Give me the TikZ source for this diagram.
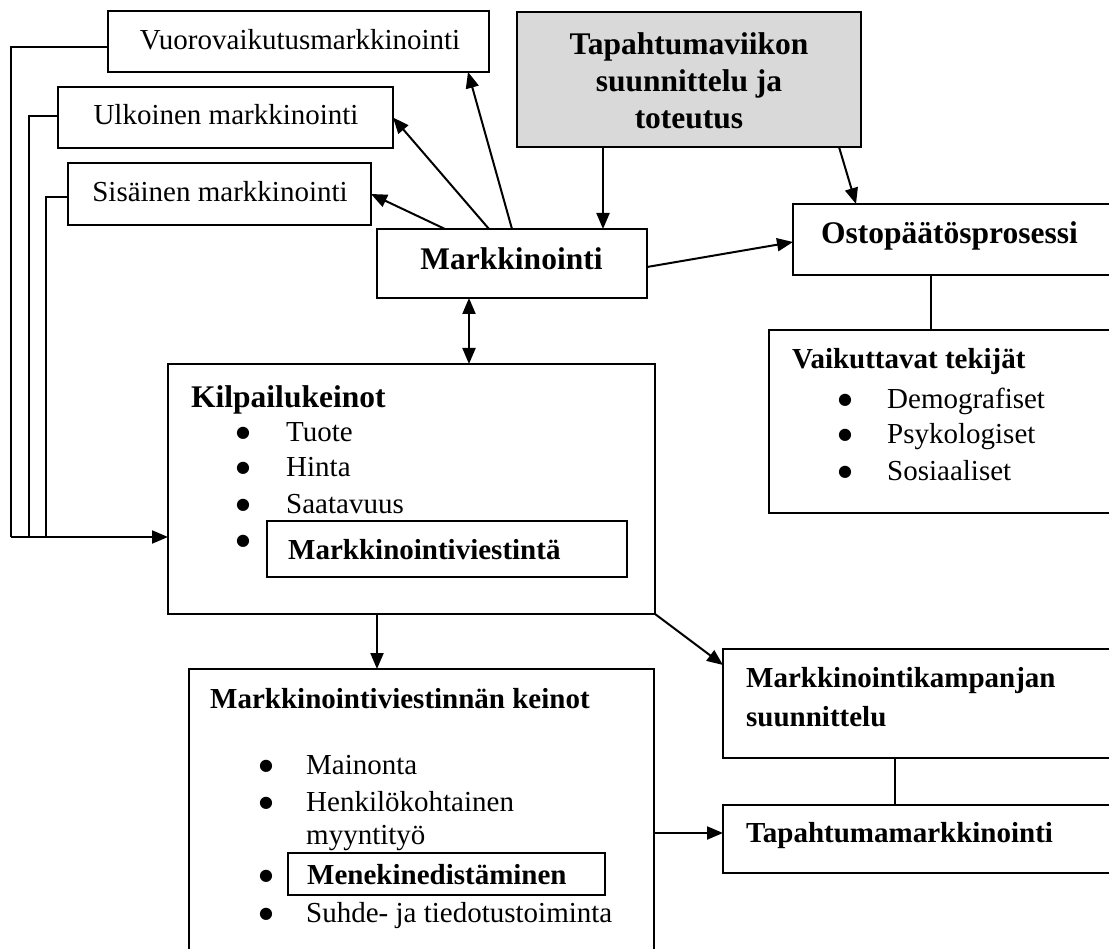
\documentclass[tikz,border=0pt]{standalone}
\usepackage{fontspec}
\setmainfont{Liberation Serif}
\newfontfamily\bulfont{DejaVu Sans}
\usetikzlibrary{arrows.meta,calc}
\begin{document}
\begin{tikzpicture}[x=1pt,y=-1pt,
  box/.style={draw,line width=1.8pt,inner sep=0pt,outer sep=0pt},
  greybox/.style={box,fill={rgb,255:red,217;green,217;blue,217}},
  arr/.style={line width=2pt,-{Triangle[length=16pt,width=13pt]}},
  dblarr/.style={line width=2pt,{Triangle[length=16pt,width=13pt]}-{Triangle[length=16pt,width=13pt]}},
  lnk/.style={line width=1.8pt},
  thinlnk/.style={line width=1.3pt},
  norm/.style={inner sep=0pt,font=\fontsize{29}{36}\selectfont},
  bnorm/.style={inner sep=0pt,font=\fontsize{29}{36}\selectfont\bfseries},
  bbig/.style={inner sep=0pt,font=\fontsize{31.5}{37}\selectfont\bfseries},
  bul/.style={inner sep=0pt,anchor=base,font=\bulfont\fontsize{16}{16}\selectfont}]
\useasboundingbox (0,0) rectangle (1109,949);

% boxes
\node[box,minimum width=381pt,minimum height=61pt] (vuoro) at (298.5,41.5) {};
\node[box,minimum width=335pt,minimum height=61pt] (ulko) at (225.5,117.5) {};
\node[box,minimum width=303pt,minimum height=62pt] (sisa) at (219.5,194) {};
\node[box,minimum width=270pt,minimum height=69pt] (mark) at (512,263.5) {};
\node[greybox,minimum width=344pt,minimum height=135pt] (tapv) at (689,79.5) {};
\node[box,minimum width=319pt,minimum height=71pt] (osto) at (952.5,239.5) {};
\node[box,minimum width=343pt,minimum height=183pt] (vaik) at (940.5,421.5) {};
\node[box,minimum width=487pt,minimum height=250pt] (kilp) at (411.5,489) {};
\node[box,minimum width=360pt,minimum height=56pt] (mv) at (447,549) {};
\node[box,minimum width=465pt,minimum height=301pt] (keinot) at (421.5,819.5) {};
\node[box,minimum width=317pt,minimum height=42pt] (mened) at (446.5,874) {};
\node[box,minimum width=389pt,minimum height=109pt] (kamp) at (917.5,703.5) {};
\node[box,minimum width=389pt,minimum height=68pt] (tapm) at (917.5,839) {};

% texts
\node[norm,anchor=base] (tvuoro) at (300,50) {Vuorovaikutusmarkkinointi};
\node[norm,anchor=base] (tulko) at (226,125) {Ulkoinen markkinointi};
\node[norm,anchor=base] (tsisa) at (220,202) {Sisäinen markkinointi};
\node[bbig,anchor=base] (tmark) at (511.5,270) {Markkinointi};
\node[bbig,align=center,anchor=center] (ttapv) at (689,80.5) {Tapahtumaviikon\\suunnittelu ja\\toteutus};
\node[bbig,anchor=base west] (tosto) at (821,244) {Ostopäätösprosessi};

\node[bnorm,anchor=base west] (tvaik) at (792,369) {Vaikuttavat tekijät};
\node[bul] (bv1) at (845,405) {●};
\node[bul] (bv2) at (845,440) {●};
\node[bul] (bv3) at (845,477) {●};
\node[norm,anchor=base west] (v1) at (887,409) {Demografiset};
\node[norm,anchor=base west] (v2) at (887,444) {Psykologiset};
\node[norm,anchor=base west] (v3) at (887,481) {Sosiaaliset};

\node[bbig,anchor=base west] (tkilp) at (191,408) {Kilpailukeinot};
\node[bul] (bk1) at (243,438) {●};
\node[bul] (bk2) at (243,473) {●};
\node[bul] (bk3) at (243,510) {●};
\node[bul] (bk4) at (243,545) {●};
\node[norm,anchor=base west] (k1) at (286,442) {Tuote};
\node[norm,anchor=base west] (k2) at (286,477) {Hinta};
\node[norm,anchor=base west] (k3) at (286,514) {Saatavuus};
\node[bnorm,anchor=base west] (tmv) at (288,559) {Markkinointiviestintä};

\node[bnorm,anchor=base west] (tkeinot) at (210,708) {Markkinointiviestinnän keinot};
\node[bul] (bm1) at (266,770) {●};
\node[bul] (bm2) at (266,807) {●};
\node[bul] (bm3) at (266,880) {●};
\node[bul] (bm4) at (266,918) {●};
\node[norm,anchor=base west] (m1) at (306,774) {Mainonta};
\node[norm,anchor=base west] (m2) at (306,811) {Henkilökohtainen};
\node[norm,anchor=base west] (m2b) at (306,844) {myyntityö};
\node[bnorm,anchor=base west] (tmened) at (307,884) {Menekinedistäminen};
\node[norm,anchor=base west] (m4) at (306,922) {Suhde- ja tiedotustoiminta};

\node[bnorm,anchor=base west] (tkamp1) at (746,687) {Markkinointikampanjan};
\node[bnorm,anchor=base west] (tkamp2) at (746,726) {suunnittelu};
\node[bnorm,anchor=base west] (ttapm) at (746,842) {Tapahtumamarkkinointi};

% left feedback lines
\coordinate (c1) at (11,47);
\coordinate (c2) at (29,116);
\coordinate (c3) at (46,197);
\coordinate (cj) at (11,537);
\draw[lnk] (vuoro.west |- c1) -- (c1) -- (c1 |- cj);
\draw[lnk] (ulko.west |- c2) -- (c2) -- (c2 |- cj);
\draw[lnk] (sisa.west |- c3) -- (c3) -- (c3 |- cj);
\draw[arr] (cj) -- (kilp.west |- cj);

% arrows from Markkinointi
\draw[arr] ($(mark.north west)+(68,0)$) -- (sisa.east);
\draw[arr] ($(mark.north west)+(112,0)$) -- (ulko.east);
\draw[arr] ($(mark.north west)+(135,0)$) -- ($(vuoro.south west)+(360,0)$);

% grey box arrows
\draw[arr] ($(tapv.south west)+(86,0)$) coordinate (g1) -- (g1 |- mark.north);
\draw[arr] ($(tapv.south west)+(322,0)$) -- ($(osto.north west)+(63,0)$);

% Markkinointi -> Ostopaatosprosessi
\draw[arr] ($(mark.east)+(0,3.5)$) -- ($(osto.west)+(0,2.5)$);
\draw[thinlnk] ($(osto.south west)+(138,0)$) coordinate (o1) -- (o1 |- vaik.north);

% Markkinointi <-> Kilpailukeinot
\draw[dblarr] ($(mark.south west)+(92,0)$) coordinate (d1) -- (d1 |- kilp.north);

% Kilpailukeinot -> lower boxes
\draw[arr] ($(kilp.south west)+(209,0)$) coordinate (k0) -- (k0 |- keinot.north);
\draw[arr] (kilp.south east) -- ($(kamp.north west)+(0,16)$);
\draw[thinlnk] ($(kamp.south west)+(172,0)$) coordinate (p1) -- (p1 |- tapm.north);
\coordinate (t1) at ($(tapm.west)+(0,-6)$);
\draw[arr] (keinot.east |- t1) -- (t1);
\end{tikzpicture}
\end{document}
